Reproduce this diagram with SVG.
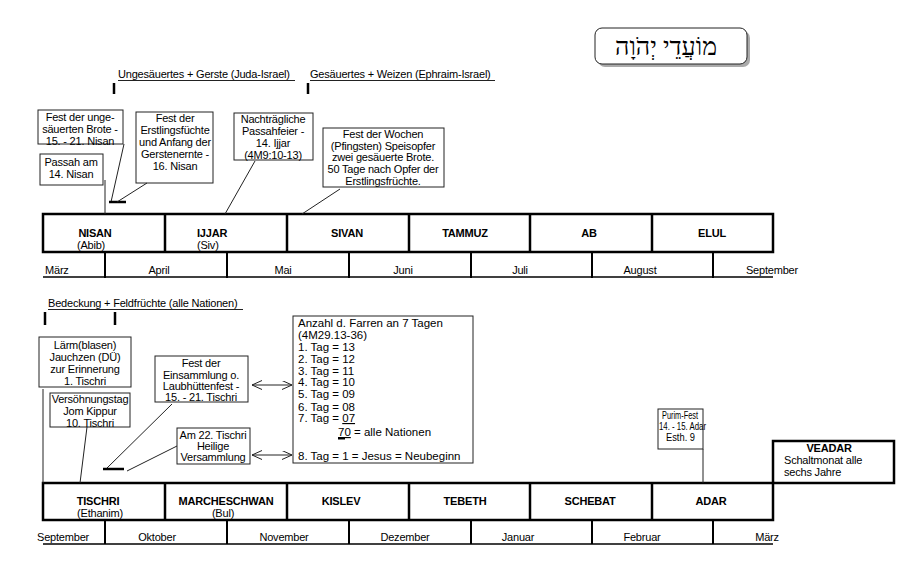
<svg xmlns="http://www.w3.org/2000/svg" width="900" height="576" viewBox="0 0 900 576">
<style>
text{font-family:"Liberation Sans",Arial,sans-serif;font-size:11px;letter-spacing:-0.2px;fill:#000}
.c{text-anchor:middle}
.b{font-weight:bold}
.box{fill:#fff;stroke:#222;stroke-width:1}
.bar{fill:none;stroke:#000;stroke-width:2.5}
.thin{stroke:#222;stroke-width:1;fill:none}
.mk{stroke:#000;stroke-width:2.5}
.mdiv{stroke:#000;stroke-width:2}
.mline{stroke:#000;stroke-width:1.5}
.big{font-size:11.5px;letter-spacing:0}
.sm{font-size:10.5px;letter-spacing:0}
</style>
<defs>
<marker id="ah" markerWidth="11" markerHeight="10" refX="10" refY="4.5" orient="auto-start-reverse" markerUnits="userSpaceOnUse">
<path d="M0,0 L10,4.5 L0,9" fill="none" stroke="#222" stroke-width="1"/>
</marker>
</defs>
<rect width="900" height="576" fill="#fff"/>

<g id="title">
<rect x="598" y="31" width="152" height="36" rx="7" fill="#aaa"/>
<rect x="595" y="28" width="152" height="36" rx="7" fill="#fff" stroke="#222" stroke-width="1"/>
<text x="666" y="55" class="c" style="font-family:'Liberation Serif','DejaVu Sans',serif;font-size:25px;letter-spacing:0" direction="rtl">מוֹעֲדֵי יְהֹוָה</text>
</g>

<g id="header-top">
<text x="118" y="78">Ungesäuertes + Gerste (Juda-Israel)</text>
<line x1="118" y1="80.5" x2="295" y2="80.5" class="thin"/>
<line x1="114" y1="83" x2="114" y2="94" class="mk"/>
<text x="310" y="78">Gesäuertes + Weizen (Ephraim-Israel)</text>
<line x1="310" y1="80.5" x2="495" y2="80.5" class="thin"/>
<line x1="308" y1="83" x2="308" y2="94" class="mk"/>
</g>

<g id="n-ungesaeuert">
<rect x="38" y="110" width="85" height="34" class="box"/>
<text x="80" y="121" class="c">Fest der unge-</text>
<text x="80" y="133" class="c">säuerten Brote -</text>
<text x="80" y="145" class="c">15. - 21. Nisan</text>
</g>

<g id="n-passah">
<rect x="40" y="154" width="63" height="31" class="box"/>
<text x="71" y="166" class="c">Passah am</text>
<text x="71" y="178" class="c">14. Nisan</text>
</g>

<g id="n-erstling">
<rect x="136" y="112" width="77" height="71" class="box"/>
<text x="175" y="122" class="c">Fest der</text>
<text x="175" y="134" class="c">Erstlingsfüchte</text>
<text x="175" y="146" class="c">und Anfang der</text>
<text x="175" y="158" class="c">Gerstenernte -</text>
<text x="175" y="170" class="c">16. Nisan</text>
</g>

<g id="n-nachtr">
<rect x="234" y="113" width="79" height="47" class="box"/>
<text x="273" y="123" class="c">Nachträgliche</text>
<text x="273" y="135" class="c">Passahfeier -</text>
<text x="273" y="147" class="c">14. Ijjar</text>
<text x="273" y="159" class="c">(4M9:10-13)</text>
</g>

<g id="n-wochen">
<rect x="323" y="128" width="121" height="59" class="box"/>
<text x="383" y="138" class="c">Fest der Wochen</text>
<text x="383" y="150" class="c">(Pfingsten) Speisopfer</text>
<text x="383" y="161" class="c">zwei gesäuerte Brote.</text>
<text x="383" y="173" class="c">50 Tage nach Opfer der</text>
<text x="383" y="185" class="c">Erstlingsfrüchte.</text>
</g>

<g id="months-top">
<rect x="43" y="214" width="730" height="38" class="bar"/>
<line x1="165" y1="214" x2="165" y2="252" class="bar"/>
<line x1="287" y1="214" x2="287" y2="252" class="bar"/>
<line x1="409" y1="214" x2="409" y2="252" class="bar"/>
<line x1="530" y1="214" x2="530" y2="252" class="bar"/>
<line x1="652" y1="214" x2="652" y2="252" class="bar"/>
<text x="95" y="237" class="c b">NISAN</text>
<text x="91" y="249" class="c">(Abib)</text>
<text x="197" y="237" class="b">IJJAR</text>
<text x="197" y="249">(Siv)</text>
<text x="347" y="237" class="c b">SIVAN</text>
<text x="465" y="237" class="c b">TAMMUZ</text>
<text x="589" y="237" class="c b">AB</text>
<text x="712" y="237" class="c b">ELUL</text>
<line x1="105" y1="252" x2="105" y2="278" class="mdiv"/>
<line x1="227" y1="252" x2="227" y2="278" class="mdiv"/>
<line x1="349" y1="252" x2="349" y2="278" class="mdiv"/>
<line x1="471" y1="252" x2="471" y2="278" class="mdiv"/>
<line x1="592" y1="252" x2="592" y2="278" class="mdiv"/>
<line x1="713" y1="252" x2="713" y2="278" class="mdiv"/>
<line x1="43" y1="277" x2="773" y2="277" class="mline"/>
<text x="45" y="274">März</text>
<text x="159" y="274" class="c">April</text>
<text x="283" y="274" class="c">Mai</text>
<text x="403" y="274" class="c">Juni</text>
<text x="520" y="274" class="c">Juli</text>
<text x="640" y="274" class="c">August</text>
<text x="772" y="274" class="c">September</text>
</g>

<g id="header-bottom">
<text x="48" y="307">Bedeckung + Feldfrüchte (alle Nationen)</text>
<line x1="48" y1="309.5" x2="243" y2="309.5" class="thin"/>
<line x1="45" y1="312" x2="45" y2="325" class="mk"/>
<line x1="115" y1="312" x2="115" y2="325" class="mk"/>
</g>

<g id="n-laerm">
<rect x="39" y="337" width="92" height="50" class="box"/>
<text x="85" y="349" class="c">Lärm(blasen)</text>
<text x="85" y="361" class="c">Jauchzen (DÜ)</text>
<text x="85" y="373" class="c">zur Erinnerung</text>
<text x="85" y="385" class="c">1. Tischri</text>
</g>

<g id="n-versoehnung">
<rect x="50" y="393" width="80" height="34" class="box"/>
<text x="90" y="403" class="c">Versöhnungstag</text>
<text x="90" y="415" class="c">Jom Kippur</text>
<text x="90" y="427" class="c">10. Tischri</text>
</g>

<g id="n-laubh">
<rect x="155" y="356" width="93" height="46" class="box"/>
<text x="201" y="367" class="c">Fest der</text>
<text x="201" y="379" class="c">Einsammlung o.</text>
<text x="201" y="390" class="c">Laubhüttenfest -</text>
<text x="201" y="401" class="c">15. - 21. Tischri</text>
</g>

<g id="n-am22">
<rect x="177" y="428" width="73" height="36" class="box"/>
<text x="213" y="439" class="c">Am 22. Tischri</text>
<text x="213" y="450" class="c">Heilige</text>
<text x="213" y="461" class="c">Versammlung</text>
</g>

<g id="n-farren">
<rect x="293" y="316" width="180" height="147" class="box"/>
<text x="298" y="327" class="big">Anzahl d. Farren an 7 Tagen</text>
<text x="298" y="339" class="big">(4M29.13-36)</text>
<text x="298" y="351" class="big">1. Tag = 13</text>
<text x="298" y="363" class="big">2. Tag = 12</text>
<text x="298" y="375" class="big">3. Tag = 11</text>
<text x="298" y="386" class="big">4. Tag = 10</text>
<text x="298" y="398" class="big">5. Tag = 09</text>
<text x="298" y="411" class="big">6. Tag = 08</text>
<text x="298" y="422" class="big">7. Tag = <tspan text-decoration="underline">07</tspan></text>
<text x="338" y="436" class="big"><tspan text-decoration="underline">70</tspan> = alle Nationen</text>
<line x1="338" y1="438.5" x2="345" y2="438.5" stroke="#000" stroke-width="2"/>
<text x="298" y="460" class="big">8. Tag = 1 = Jesus = Neubeginn</text>
</g>

<g id="n-purim">
<rect x="658" y="409" width="45" height="40" class="box"/>
<text x="662" y="419" class="sm" textLength="36" lengthAdjust="spacingAndGlyphs">Purim-Fest</text>
<text x="659" y="430" class="sm" textLength="47" lengthAdjust="spacingAndGlyphs">14. - 15. Adar</text>
<text x="666" y="441" class="sm" textLength="29" lengthAdjust="spacingAndGlyphs">Esth. 9</text>
</g>

<g id="n-veadar">
<polyline points="773,483 773,441 894,441 894,483 773,483" class="bar"/>
<text x="829" y="452" class="c b">VEADAR</text>
<text x="784" y="464">Schaltmonat alle</text>
<text x="784" y="476">sechs Jahre</text>
</g>

<g id="months-bottom">
<rect x="43" y="483" width="730" height="37" class="bar"/>
<line x1="165" y1="483" x2="165" y2="520" class="bar"/>
<line x1="287" y1="483" x2="287" y2="520" class="bar"/>
<line x1="409" y1="483" x2="409" y2="520" class="bar"/>
<line x1="530" y1="483" x2="530" y2="520" class="bar"/>
<line x1="652" y1="483" x2="652" y2="520" class="bar"/>
<text x="98" y="505" class="c b">TISCHRI</text>
<text x="100" y="517" class="c">(Ethanim)</text>
<text x="226" y="505" class="c b">MARCHESCHWAN</text>
<text x="223" y="517" class="c">(Bul)</text>
<text x="341" y="505" class="c b">KISLEV</text>
<text x="465" y="505" class="c b">TEBETH</text>
<text x="590" y="505" class="c b">SCHEBAT</text>
<text x="711" y="505" class="c b">ADAR</text>
<line x1="105" y1="520" x2="105" y2="544" class="mdiv"/>
<line x1="227" y1="520" x2="227" y2="544" class="mdiv"/>
<line x1="349" y1="520" x2="349" y2="544" class="mdiv"/>
<line x1="471" y1="520" x2="471" y2="544" class="mdiv"/>
<line x1="592" y1="520" x2="592" y2="544" class="mdiv"/>
<line x1="713" y1="520" x2="713" y2="544" class="mdiv"/>
<line x1="43" y1="544" x2="773" y2="544" class="mline"/>
<text x="37" y="541">September</text>
<text x="157" y="541" class="c">Oktober</text>
<text x="284" y="541" class="c">November</text>
<text x="405" y="541" class="c">Dezember</text>
<text x="518" y="541" class="c">Januar</text>
<text x="642" y="541" class="c">Februar</text>
<text x="767" y="541" class="c">März</text>
</g>

<g id="connectors">
<line x1="105" y1="180" x2="105" y2="214" class="thin"/>
<line x1="124" y1="144" x2="111" y2="202" class="thin"/>
<line x1="109" y1="202" x2="126" y2="202" class="mk"/>
<line x1="147" y1="183" x2="117" y2="202" class="thin"/>
<line x1="255" y1="161" x2="225" y2="214" class="thin"/>
<line x1="340" y1="189" x2="302" y2="214" class="thin"/>
<line x1="43" y1="389" x2="43" y2="483" class="thin"/>
<line x1="87" y1="427" x2="80" y2="483" class="thin"/>
<line x1="172" y1="404" x2="106" y2="469" class="thin"/>
<line x1="103" y1="469" x2="124" y2="469" class="mk"/>
<line x1="177" y1="446" x2="127" y2="471" class="thin"/>
<line x1="252" y1="385" x2="292" y2="385" class="thin" marker-start="url(#ah)" marker-end="url(#ah)"/>
<line x1="252" y1="455" x2="292" y2="455" class="thin" marker-start="url(#ah)" marker-end="url(#ah)"/>
<line x1="703" y1="449" x2="703" y2="483" class="thin"/>
</g>
</svg>
